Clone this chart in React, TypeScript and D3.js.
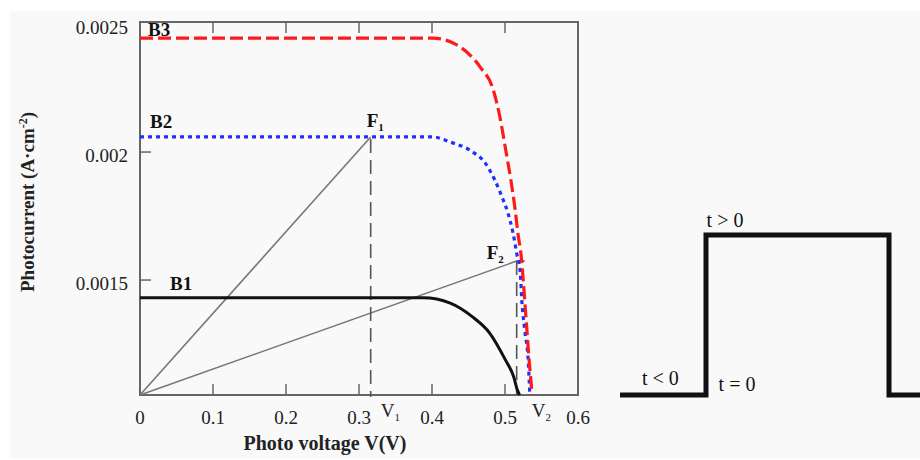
import React from 'react';
import * as d3 from 'd3';

// ---- data ----
const xTicks = [0, 0.1, 0.2, 0.3, 0.4, 0.5, 0.6];
const xTickLabels = ['0', '0.1', '0.2', '0.3', '0.4', '0.5', '0.6'];
const yTicks = [0.0015, 0.002, 0.0025];
const yTickLabels = ['0.0015', '0.002', '0.0025'];
const xDomain = [0, 0.6];
const yDomain = [0.001051, 0.002508];

const b3V = [0, 0.401, 0.429, 0.452, 0.466, 0.484, 0.493, 0.501, 0.508, 0.514, 0.518, 0.522, 0.525, 0.527, 0.53, 0.533, 0.536, 0.537];
const b3I = [0.002445, 0.002445, 0.002426, 0.002379, 0.002332, 0.002242, 0.002137, 0.002008, 0.001891, 0.001773, 0.001676, 0.001598, 0.0015, 0.001422, 0.001305, 0.001188, 0.00109, 0.001051];

const b2V = [0, 0.401, 0.425, 0.456, 0.473, 0.486, 0.496, 0.504, 0.511, 0.516, 0.521, 0.523, 0.527, 0.532, 0.534];
const b2I = [0.002059, 0.002059, 0.002039, 0.002, 0.001957, 0.001891, 0.001824, 0.001762, 0.001684, 0.001605, 0.001527, 0.001422, 0.001305, 0.001176, 0.001051];

const b1V = [0, 0.388, 0.425, 0.456, 0.479, 0.5, 0.512, 0.517, 0.52];
const b1I = [0.001431, 0.001431, 0.00141, 0.001355, 0.001293, 0.001191, 0.001121, 0.00107, 0.001051];

const f1 = { v: 0.316, i: 0.002059 };
const f2 = { v: 0.516, i: 0.001574 };

const pulseT = [-1, 0, 0, 2.128, 2.128, 2.5];
const pulseLevel = [0, 0, 1, 1, 0, 0];

export default function App() {
  const W = 920, H = 460;
  const x = d3.scaleLinear().domain(xDomain).range([140, 578]);
  const y = d3.scaleLinear().domain(yDomain).range([395, 22]);
  const x0 = x(xDomain[0]), x1 = x(xDomain[1]);
  const y0 = y(yDomain[0]), y1 = y(yDomain[1]);

  const line = d3.line<[number, number]>()
    .x(d => x(d[0]))
    .y(d => y(d[1]))
    .curve(d3.curveMonotoneX);

  const b3 = b3V.map((v, i) => [v, b3I[i]] as [number, number]);
  const b2 = b2V.map((v, i) => [v, b2I[i]] as [number, number]);
  const b1 = b1V.map((v, i) => [v, b1I[i]] as [number, number]);

  const tx = d3.scaleLinear().domain([-1, 0]).range([620, 706]);
  const ty = d3.scaleLinear().domain([0, 1]).range([395, 235]);
  const pulsePath = d3.line<number>()
    .x((_, i) => tx(pulseT[i]))
    .y((_, i) => ty(pulseLevel[i]))(pulseT) as string;

  const font = '"Liberation Serif", "Times New Roman", serif';
  const axisCol = '#666';

  return (
    <svg width={W} height={H} style={{ position: 'absolute', left: 0, top: 0, background: '#fff' }} fontFamily={font}>
      <rect x={10} y={11} width={910} height={447} fill="#f9f9f9" />

      {/* frame */}
      <rect x={x0} y={y1} width={x1 - x0} height={y0 - y1} fill="none" stroke={axisCol} strokeWidth={2} />

      {/* x ticks bottom & top */}
      {xTicks.slice(1, -1).map((t, i) => (
        <g key={'xt' + i}>
          <line x1={x(t)} x2={x(t)} y1={y0} y2={y0 - 11} stroke={axisCol} strokeWidth={1.5} />
          <line x1={x(t)} x2={x(t)} y1={y1} y2={y1 + 11} stroke={axisCol} strokeWidth={1.5} />
        </g>
      ))}
      {xTicks.map((t, i) => (
        <text key={'xl' + i} x={x(t)} y={y0 + 29} fontSize={19} textAnchor="middle" fill="#222">{xTickLabels[i]}</text>
      ))}

      {/* y ticks */}
      {yTicks.map((t, i) => (
        <g key={'yt' + i}>
          {t < 0.0025 && <line x1={x0} x2={x0 + 11} y1={y(t)} y2={y(t)} stroke={axisCol} strokeWidth={1.5} />}
          <text x={128} y={y(t) + 10} fontSize={19} textAnchor="end" fill="#222">{yTickLabels[i]}</text>
        </g>
      ))}

      {/* axis titles */}
      <text x={325} y={450} fontSize={20} fontWeight="bold" textAnchor="middle" fill="#222">Photo voltage V(V)</text>
      <text transform="translate(34,202) rotate(-90)" fontSize={19} fontWeight="bold" textAnchor="middle" fill="#222">
        Photocurrent (A·cm<tspan dy={-7} fontSize={12}>-2</tspan><tspan dy={7}>)</tspan>
      </text>

      {/* load lines */}
      <line x1={x(0)} y1={y0} x2={x(f1.v)} y2={y(f1.i)} stroke="#777" strokeWidth={1.6} />
      <line x1={x(0)} y1={y0} x2={x(f2.v)} y2={y(f2.i)} stroke="#777" strokeWidth={1.6} />
      <line x1={x(f2.v)} y1={y(f2.i)} x2={x(f2.v) + 8} y2={y(f2.i)} stroke="#555" strokeWidth={1.5} />
      <line x1={x(f1.v)} y1={y(f1.i) + 2} x2={x(f1.v)} y2={y0 + 2} stroke="#555" strokeWidth={1.6} strokeDasharray="14,7" />
      <line x1={x(f2.v)} y1={y(f2.i)} x2={x(f2.v)} y2={y0} stroke="#555" strokeWidth={1.6} strokeDasharray="14,7" />

      {/* curves */}
      <path d={line(b1) as string} fill="none" stroke="#111" strokeWidth={3} />
      <path d={line(b2) as string} fill="none" stroke="#1f2fff" strokeWidth={3.2} strokeDasharray="4,4" />
      <path d={line(b3) as string} fill="none" stroke="#ff1a1a" strokeWidth={3.2} strokeDasharray="13,5" />

      {/* labels */}
      <text x={x0 + 8} y={y1 + 14} fontSize={19} fontWeight="bold" fill="#111">B3</text>
      <text x={x0 + 10} y={y(b2I[0]) - 9} fontSize={19} fontWeight="bold" fill="#111">B2</text>
      <text x={x0 + 30} y={y(b1I[0]) - 8} fontSize={19} fontWeight="bold" fill="#111">B1</text>
      <text x={x(f1.v) - 4} y={y(f1.i) - 10} fontSize={19} fontWeight="bold" fill="#111">F<tspan dy={4} fontSize={11}>1</tspan></text>
      <text x={x(f2.v) - 30} y={y(f2.i) - 2} fontSize={19} fontWeight="bold" fill="#111">F<tspan dy={4} fontSize={11}>2</tspan></text>
      <text x={x(f1.v) + 10} y={y0 + 22} fontSize={19} fill="#222">V<tspan dy={4} fontSize={11}>1</tspan></text>
      <text x={x(f2.v) + 15} y={y0 + 22} fontSize={19} fill="#222">V<tspan dy={4} fontSize={11}>2</tspan></text>

      {/* pulse schematic */}
      <path d={pulsePath} fill="none" stroke="#111" strokeWidth={5} strokeLinejoin="miter" />
      <text x={tx(0) + 19} y={ty(1) - 8} fontSize={20} textAnchor="middle" fill="#111">t &gt; 0</text>
      <text x={tx(-0.53)} y={ty(0) - 10} fontSize={20} textAnchor="middle" fill="#111">t &lt; 0</text>
      <text x={tx(0) + 31} y={ty(0) - 4} fontSize={20} textAnchor="middle" fill="#111">t = 0</text>
    </svg>
  );
}
